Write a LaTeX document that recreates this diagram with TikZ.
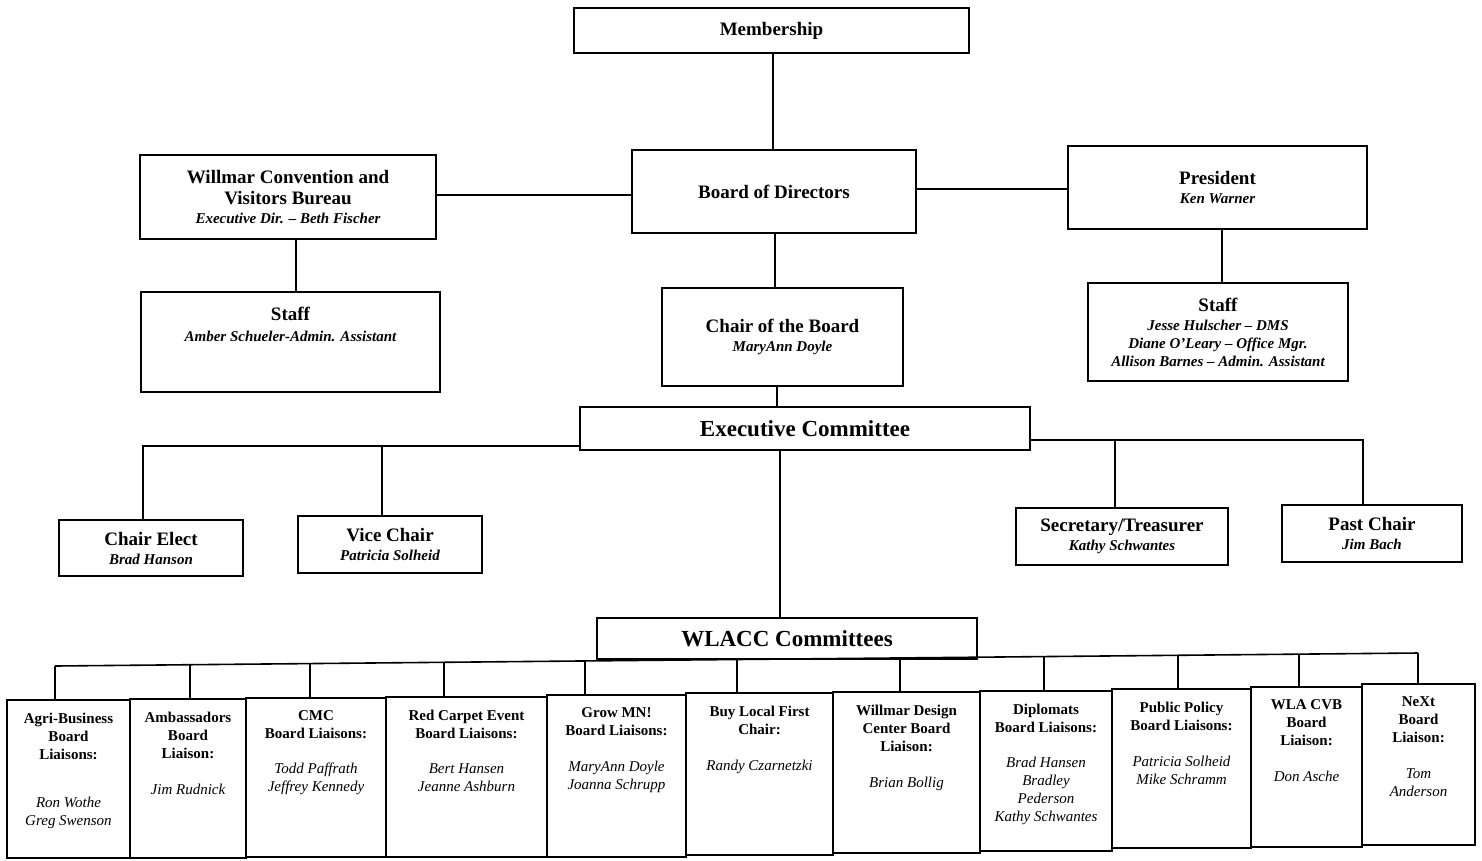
\documentclass[tikz,border=0pt]{standalone}
\usepackage{fontspec}
\setmainfont{Liberation Serif}
\newcommand\subt{\fontsize{15}{18}\selectfont\bfseries\itshape}
\newcommand\lnm{\fontsize{15}{18}\selectfont\mdseries\itshape}
\begin{document}
\begin{tikzpicture}[x=1pt,y=-1pt,line width=1.6pt,
  box/.style={draw,rectangle,inner sep=0pt,outer sep=0pt,anchor=north west,align=center,
    font=\fontsize{19}{21}\selectfont\bfseries},
  big/.style={font=\fontsize{23}{26}\selectfont\bfseries},
  tx/.style={anchor=north,inner sep=0pt,align=center,font=\fontsize{19}{21}\selectfont\bfseries},
  btx/.style={anchor=north,inner sep=0pt,align=center,font=\fontsize{15}{18}\selectfont\bfseries}]
\useasboundingbox (0,0) rectangle (1482,860);
\newcommand\bx[6]{\node[box,minimum width={#4-#2},minimum height={#5-#3}] (#1) at (#2,#3) {#6};}
% top part
\bx{mem}{574}{8}{969}{53}{Membership}
\bx{bod}{632}{150}{916}{233}{Board of Directors}
\bx{cvb}{140}{155}{436}{239}{Willmar Convention and\\Visitors Bureau\\[-2pt]{\subt Executive Dir. -- Beth Fischer}}
\bx{pres}{1068}{146}{1367}{229}{President\\[-2pt]{\subt Ken Warner}}
\bx{staffL}{141}{292}{440}{392}{}
\node[tx] (staffLt) at ([yshift=-14pt]staffL.north) {Staff\\{\subt Amber Schueler-Admin. Assistant}};
\bx{chair}{662}{288}{903}{386}{Chair of the Board\\[-2pt]{\subt MaryAnn Doyle}}
\bx{staffR}{1088}{283}{1348}{381}{Staff\\[-2pt]{\subt Jesse Hulscher -- DMS}\\[-3pt]{\subt Diane O'Leary -- Office Mgr.}\\[-3pt]{\subt Allison Barnes -- Admin. Assistant}}
\node[box,big,minimum width=450,minimum height=43] (exec) at (580,407) {Executive Committee};
\bx{ce}{59}{520}{243}{576}{Chair Elect\\[-2pt]{\subt Brad Hanson}}
\bx{vc}{298}{516}{482}{573}{Vice Chair\\[-2pt]{\subt Patricia Solheid}}
\bx{st}{1016}{508}{1228}{565}{Secretary/Treasurer\\[-2pt]{\subt Kathy Schwantes}}
\bx{pc}{1282}{505}{1462}{562}{Past Chair\\[-2pt]{\subt Jim Bach}}
\node[box,big,minimum width=380,minimum height=41] (wl) at (597,618) {WLACC Committees};
% top connectors
\draw ([xshift=1.5pt]mem.south) -- ([xshift=1.5pt]mem.south |- bod.north);
\draw ([yshift=2pt]cvb.east) -- ([yshift=2pt]cvb.east -| bod.west);
\draw ([yshift=2.5pt]bod.east) -- ([yshift=2.5pt]bod.east -| pres.west);
\draw ([xshift=8pt]cvb.south) -- ([xshift=8pt]cvb.south |- staffL.north);
\draw ([xshift=1pt]bod.south) -- ([xshift=1pt]bod.south |- chair.north);
\draw ([xshift=4.5pt]pres.south) -- ([xshift=4.5pt]pres.south |- staffR.north);
\draw ([xshift=-5.5pt]chair.south) -- ([xshift=-5.5pt]chair.south |- exec.north);
\coordinate (lb1) at (143,446);
\coordinate (lb2) at (382,446);
\draw (lb1 -| exec.west) -- (lb1) -- (lb1 |- ce.north);
\draw (lb2) -- (lb2 |- vc.north);
\coordinate (rb1) at (1115,440);
\coordinate (rb2) at (1363,440);
\draw (rb1 -| exec.east) -- (rb2) -- (rb2 |- pc.north);
\draw (rb1) -- (rb1 |- st.north);
\coordinate (ew) at (780,450);
\draw (ew) -- (ew |- wl.north);
% bottom row
\bx{b1}{7}{700}{130}{858}{}
\bx{b2}{130}{699}{246}{858}{}
\bx{b3}{246}{698}{386}{857}{}
\bx{b4}{386}{697}{547}{857}{}
\bx{b5}{547}{695}{686}{857}{}
\bx{b6}{686}{693}{833}{855}{}
\bx{b7}{833}{692}{980}{853}{}
\bx{b8}{980}{691}{1112}{851}{}
\bx{b9}{1112}{689}{1251}{848}{}
\bx{b10}{1251}{687}{1362}{847}{}
\bx{b11}{1362}{684}{1475}{845}{}
\node[btx] (t1) at ([yshift=-12pt]b1.north) {Agri-Business\\Board\\Liaisons:\\[30pt]{\lnm Ron Wothe}\\{\lnm Greg Swenson}};
\node[btx] (t2) at ([yshift=-12pt]b2.north) {Ambassadors\\Board\\Liaison:\\[18pt]{\lnm Jim Rudnick}};
\node[btx] (t3) at ([yshift=-12pt]b3.north) {CMC\\Board Liaisons:\\[17pt]{\lnm Todd Paffrath}\\{\lnm Jeffrey Kennedy}};
\node[btx] (t4) at ([yshift=-12pt]b4.north) {Red Carpet Event\\Board Liaisons:\\[17pt]{\lnm Bert Hansen}\\{\lnm Jeanne Ashburn}};
\node[btx] (t5) at ([yshift=-12pt]b5.north) {Grow MN!\\Board Liaisons:\\[18pt]{\lnm MaryAnn Doyle}\\{\lnm Joanna Schrupp}};
\node[btx] (t6) at ([yshift=-12pt]b6.north) {Buy Local First\\Chair:\\[18pt]{\lnm Randy Czarnetzki}};
\node[btx] (t7) at ([yshift=-12pt]b7.north) {Willmar Design\\Center Board\\Liaison:\\[18pt]{\lnm Brian Bollig}};
\node[btx] (t8) at ([yshift=-12pt]b8.north) {Diplomats\\Board Liaisons:\\[17pt]{\lnm Brad Hansen}\\{\lnm Bradley}\\{\lnm Pederson}\\{\lnm Kathy Schwantes}};
\node[btx] (t9) at ([yshift=-12pt]b9.north) {Public Policy\\Board Liaisons:\\[18pt]{\lnm Patricia Solheid}\\{\lnm Mike Schramm}};
\node[btx] (t10) at ([yshift=-12pt]b10.north) {WLA CVB\\Board\\Liaison:\\[18pt]{\lnm Don Asche}};
\node[btx] (t11) at ([yshift=-12pt]b11.north) {NeXt\\Board\\Liaison:\\[18pt]{\lnm Tom}\\{\lnm Anderson}};
% bus
\coordinate (d1) at (55,666);
\coordinate (d2) at (190,664.7);
\coordinate (d3) at (310,663.6);
\coordinate (d4) at (444,662.3);
\coordinate (d5) at (585,660.9);
\coordinate (d6) at (737,659.5);
\coordinate (d7) at (900,657.9);
\coordinate (d8) at (1044,656.6);
\coordinate (d9) at (1178,655.3);
\coordinate (d10) at (1299,654.1);
\coordinate (d11) at (1418,653);
\draw (d1) -- (d11);
\foreach \i in {1,...,11} {\draw (d\i) -- (d\i |- b\i.north);}
\end{tikzpicture}
\end{document}
